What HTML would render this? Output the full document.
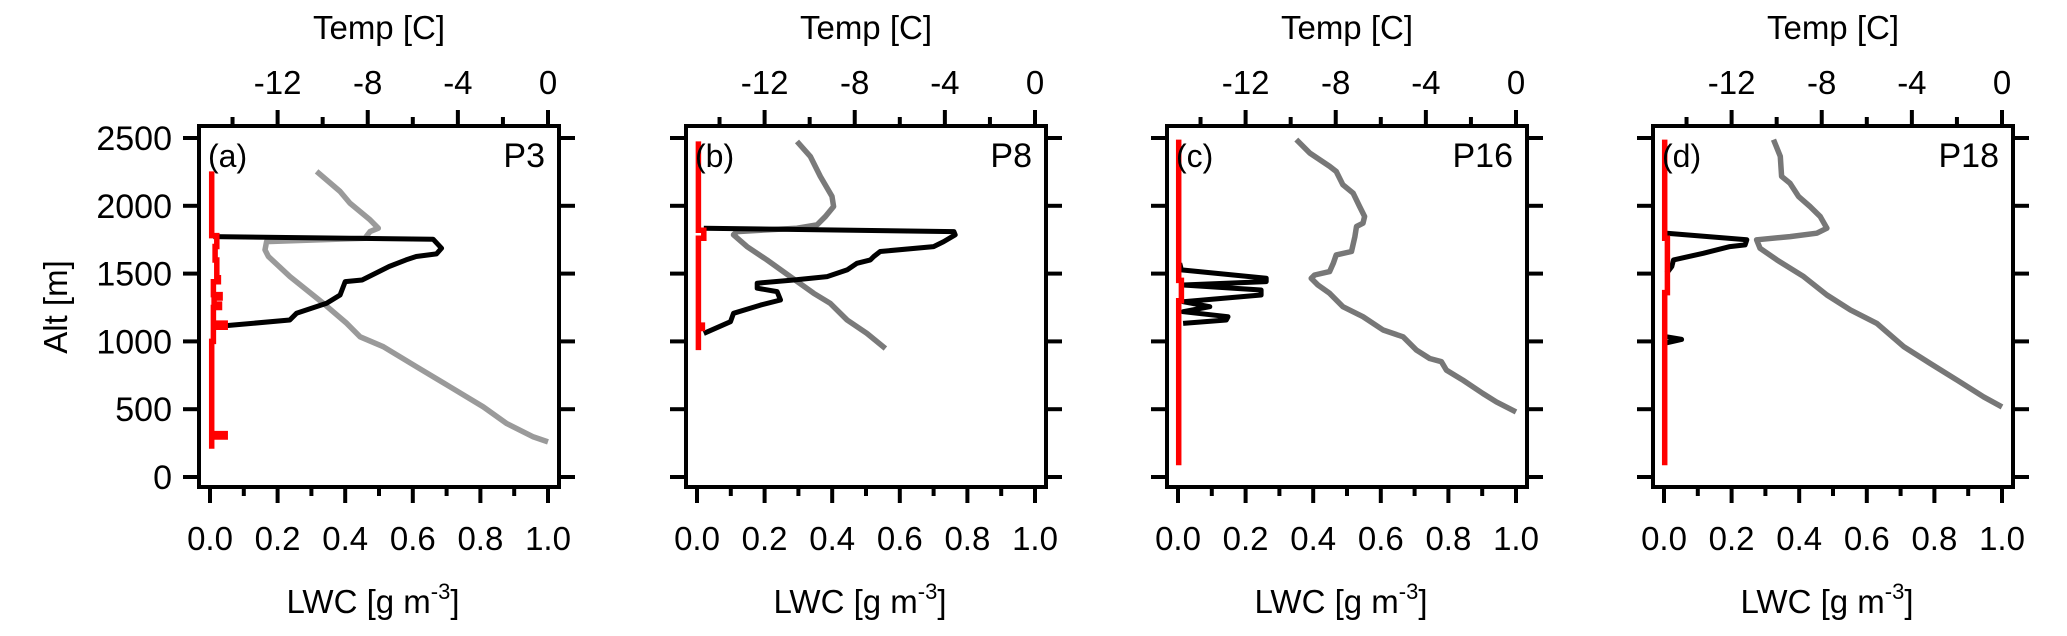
<!DOCTYPE html>
<html><head><meta charset="utf-8"><style>
body{margin:0;background:#fff;width:2067px;height:636px;overflow:hidden}
svg{display:block;font-family:"Liberation Sans",Arial,sans-serif}
</style></head><body>
<svg id="chart" width="2067" height="636" viewBox="0 0 2067 636" xmlns="http://www.w3.org/2000/svg"></svg>
<script>
const altTicks=[0,500,1000,1500,2000,2500];
const lwcTicks=["0.0","0.2","0.4","0.6","0.8","1.0"];
const tempTicks=[-12,-8,-4,0];
const panelLabels=["(a)","(b)","(c)","(d)"];
const profileNames=["P3","P8","P16","P18"];

const tempAltA=[2254,2106,2020,1897,1835,1810,1761,1736,1675,1626,1478,1281,1133,1034,961,813,665,517,394,296,259];
const tempValA=[-10.27,-9.23,-8.79,-7.9,-7.53,-7.9,-8.12,-12.49,-12.56,-12.41,-11.45,-9.97,-8.93,-8.34,-7.31,-5.83,-4.35,-2.87,-1.83,-0.65,0];
const lwcAltA=[1773,1754,1687,1645,1626,1601,1552,1453,1441,1342,1281,1207,1158,1108];
const lwcValA=[0.01,0.66,0.685,0.67,0.61,0.58,0.53,0.45,0.40,0.385,0.345,0.256,0.236,0.01];
const redAltA=[2254,1780,1700,1600,1470,1440,1345,1320,1275,1250,1135,1105,1000,320,295,209];
const redValA=[0.005,0.02,0.015,0.02,0.025,0.01,0.03,0.012,0.028,0.01,0.045,0.01,0.005,0.045,0.005,0.005];

const tempAltB=[2475,2364,2217,2069,1995,1921,1860,1835,1810,1786,1699,1601,1478,1355,1281,1158,1059,948];
const tempValB=[-10.56,-9.97,-9.53,-9.01,-8.94,-9.3,-9.67,-10.56,-13.23,-13.38,-12.78,-11.9,-10.86,-9.82,-9.09,-8.34,-7.46,-6.64];
const lwcAltB=[1835,1810,1786,1736,1699,1663,1626,1601,1576,1527,1478,1453,1429,1392,1367,1305,1268,1207,1145,1059];
const lwcValB=[0.02,0.76,0.764,0.73,0.70,0.542,0.523,0.513,0.473,0.444,0.385,0.286,0.178,0.178,0.237,0.247,0.188,0.108,0.099,0.02];
const redAltB=[2475,1820,1760,1120,1095,936];
const redValB=[0.004,0.02,0.004,0.016,0.004,0.004];

const tempAltC=[2488,2389,2291,2254,2155,2094,1995,1921,1872,1847,1773,1663,1638,1576,1515,1490,1465,1416,1355,1256,1182,1084,1034,936,874,850,788,714,616,554,480];
const tempValC=[-9.75,-9.15,-8.27,-7.98,-7.68,-7.23,-6.94,-6.72,-6.79,-7.08,-7.15,-7.3,-7.98,-8.11,-8.27,-8.94,-9.09,-8.79,-8.27,-7.68,-6.79,-5.9,-5.01,-4.42,-3.83,-3.31,-3.09,-2.35,-1.47,-0.87,0];
const lwcAltC=[1576,1527,1465,1441,1416,1379,1342,1293,1256,1219,1182,1158,1133];
const lwcValC=[0.005,0.01,0.261,0.261,0.015,0.246,0.246,0.015,0.094,0.015,0.148,0.143,0.015];
const redAltC=[2488,1450,1300,86];
const redValC=[0.002,0.01,0.002,0.002];

const tempAltD=[2488,2364,2217,2167,2069,1995,1921,1835,1798,1773,1749,1687,1601,1478,1342,1232,1133,961,837,714,591,517];
const tempValD=[-10.14,-9.84,-9.78,-9.41,-9.03,-8.52,-8.07,-7.77,-8.22,-9.41,-10.89,-10.74,-9.99,-8.8,-7.77,-6.73,-5.55,-4.36,-3.18,-1.99,-0.81,0];
const lwcAltD=[1798,1749,1712,1699,1650,1601,1552,1502];
const lwcValD=[0.008,0.245,0.24,0.195,0.116,0.028,0.023,0.008];
const lwcBlobAltD=[1034,1015,990];
const lwcBlobValD=[0.008,0.052,0.008];
const redAltD=[2488,1760,1360,86];
const redValD=[0.002,0.01,0.002,0.002];

const panels=[
 {x0:210,tA:tempAltA,tV:tempValA,lA:[lwcAltA],lV:[lwcValA],rA:redAltA,rV:redValA,gray:"#9a9a9a"},
 {x0:697,tA:tempAltB,tV:tempValB,lA:[lwcAltB],lV:[lwcValB],rA:redAltB,rV:redValB,gray:"#7a7a7a"},
 {x0:1178,tA:tempAltC,tV:tempValC,lA:[lwcAltC],lV:[lwcValC],rA:redAltC,rV:redValC,gray:"#777"},
 {x0:1664,tA:tempAltD,tV:tempValD,lA:[lwcAltD,lwcBlobAltD],lV:[lwcValD,lwcBlobValD],rA:redAltD,rV:redValD,gray:"#777"}
];
const svg=document.getElementById('chart');
const NS="http://www.w3.org/2000/svg";
const W=338, yTop=126, yBot=487;
function yAlt(a){return 477-a*(339/2500);}
function mk(tag,attrs,parent){const e=document.createElementNS(NS,tag);for(const k in attrs)e.setAttribute(k,attrs[k]);(parent||svg).appendChild(e);return e;}
function txt(s,x,y,anchor,size,parent){const t=mk('text',{x:x,y:y,'text-anchor':anchor,'font-size':size,fill:'#000'},parent);t.textContent=s;return t;}

panels.forEach((p,i)=>{
 const g=mk('g',{});
 
 
 const xL=v=>p.x0+v*W;
 const xT=t=>p.x0+(t+15)/15*W;
 const fl=p.x0-11, fr=p.x0+W+11;
 const pts=(A,V,f)=>A.map((a,k)=>f(V[k]).toFixed(1)+','+yAlt(a).toFixed(1)).join(' ');
 const gl=mk('polyline',{points:pts(p.tA,p.tV,xT),fill:'none',stroke:p.gray,'stroke-width':5.5,'stroke-linejoin':'round'},g);
 
 
 p.lA.forEach((A,k)=>{
  const bl=mk('polyline',{points:pts(A,p.lV[k],xL),fill:'none',stroke:'#000','stroke-width':5,'stroke-linejoin':'round'},g);
  
  
 });
 // red as stepped profile
 let d='M'+xL(p.rV[0]).toFixed(1)+' '+yAlt(p.rA[0]).toFixed(1);
 for(let k=1;k<p.rA.length;k++){d+=' V'+yAlt(p.rA[k]).toFixed(1)+' H'+xL(p.rV[k]).toFixed(1);}
 const rl=mk('path',{d:d,fill:'none',stroke:'#ff0000','stroke-width':5.5},g);
 
 
 const fr_=mk('rect',{x:fl,y:yTop,width:fr-fl,height:yBot-yTop,fill:'none',stroke:'#000','stroke-width':4},g);
 
 
 altTicks.forEach(a=>{
  const y=yAlt(a);
  mk('line',{x1:fl-16,x2:fl,y1:y,y2:y,stroke:'#000','stroke-width':4},g);
  mk('line',{x1:fr,x2:fr+16,y1:y,y2:y,stroke:'#000','stroke-width':4},g);
  if(i===0){const t=txt(String(a),172,y+12,'end',34,g);
   
   }
 });
 for(let k=0;k<=10;k++){
  const x=xL(k/10);
  mk('line',{x1:x,x2:x,y1:yBot,y2:yBot+(k%2?9:16),stroke:'#000','stroke-width':4},g);
 }
 lwcTicks.forEach((s,k)=>{
  const t=txt(s,xL(k*0.2),550,'middle',33,g);
  
  
 });
 for(let tv=-14;tv<=0;tv+=2){
  const x=xT(tv);
  mk('line',{x1:x,x2:x,y1:yTop,y2:yTop-(tv%4===0?16:9),stroke:'#000','stroke-width':4},g);
 }
 tempTicks.forEach(tv=>{
  const t=txt(String(tv),xT(tv),94,'middle',33,g);
  
  
 });
 const pl=txt(panelLabels[i],p.x0-2,167,'start',32,g);
 
 
 const pn=txt(profileNames[i],fr-14,167,'end',34,g);
 
 
 const tt=txt('Temp [C]',p.x0+W/2,39,'middle',33,g);
 
 
 const lt=mk('text',{x:p.x0+W/2-6,y:613,'text-anchor':'middle','font-size':33,fill:'#000'},g);
 lt.innerHTML='LWC [g m<tspan dy="-14" font-size="22">-3</tspan><tspan dy="14">]</tspan>';
 
 
});
const at=txt('Alt [m]',0,0,'middle',33);
at.setAttribute('transform','translate(67,307) rotate(-90)');


</script>
</body></html>
